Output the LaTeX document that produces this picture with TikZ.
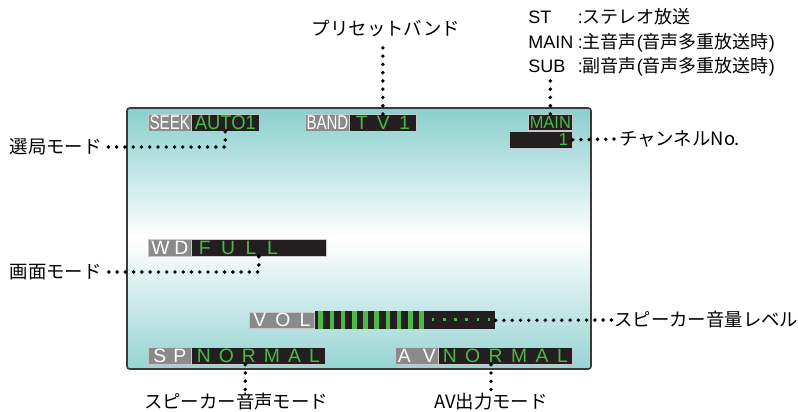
\documentclass[tikz,border=0pt]{standalone}
\usepackage{fontspec}
\usepackage{graphicx}
\setmainfont{Noto Sans CJK JP}
\newfontfamily\lcd{Liberation Sans}
\usepackage{tikz}
\usetikzlibrary{calc}

\definecolor{lcdgray}{HTML}{8A8A8A}
\definecolor{lcdedge}{HTML}{C8C8C8}
\definecolor{lcdblack}{HTML}{231F20}
\definecolor{lcdgreen}{HTML}{4CB848}
\definecolor{scrtop}{HTML}{88CFCD}
\definecolor{scrbot}{HTML}{96D4D2}
\definecolor{scredge}{HTML}{3A3A3A}

\newlength\px
\setlength\px{0.75pt}
\newcommand{\spread}[2]{\makebox[#1\px][s]{#2}}
\newcommand{\boxfont}{\fontsize{15}{15}\selectfont\lcd}
\newcommand{\widefont}{\fontsize{14.5}{15}\selectfont\lcd}
\newcommand{\smallfont}{\fontsize{13}{13}\selectfont\lcd}

\tikzset{
  gbox/.style={fill=lcdgray, draw=lcdedge, line width=0.5pt, text=white,
    inner sep=0pt, minimum height=17*\px, anchor=north west, font=\boxfont},
  bbox/.style={gbox, fill=lcdblack, text=lcdgreen},
  lbl/.style={font=\fontsize{13.8}{16}\selectfont, inner sep=1.5pt},
  dotline/.style={line width=2.9pt, dash pattern=on 0pt off 6.2pt, line cap=round},
  screen/.style={draw=scredge, line width=1.2pt, rounded corners=2pt,
    top color=scrtop, bottom color=scrbot, middle color=white}
}

\begin{document}
\begin{tikzpicture}[x=\px, y=-\px]
      \useasboundingbox (0,0) rectangle (798,411);
      \draw[screen] (127,108) rectangle (591,369);

      % top row
      \node[gbox, minimum width=43*\px] (seek) at (148,114) {\scalebox{0.76}[1]{SEEK}};
      \node[bbox, minimum width=68*\px] (auto) at (191,114) {\scalebox{0.92}[1]{AUTO1}};
      \node[gbox, minimum width=44*\px] (band) at (305,114) {\scalebox{0.75}[1]{BAND}};
      \node[bbox, minimum width=67*\px, font=\widefont] (tv) at (349,114) {\spread{54}{T\hfill V\hfill 1}};
      \node[bbox, minimum width=44*\px, minimum height=16*\px, font=\smallfont] (main) at (528,114) {\scalebox{0.95}[1]{MAIN}};
      \node[bbox, minimum width=63*\px, font=\smallfont] (chan) at (509,131) {\makebox[55\px][r]{1}};

      % wide mode
      \node[gbox, minimum width=43*\px, font=\widefont] (wd) at (148,239) {\spread{37}{W\hfill D}};
      \node[bbox, minimum width=135*\px, font=\widefont] (full) at (191,239)
        {\makebox[120\px][l]{\spread{79}{F\hfill U\hfill L\hfill L}}};

      % volume
      \node[gbox, minimum width=65*\px, minimum height=16*\px, font=\widefont] (vol) at (249,312)
        {\spread{57}{V\hfill O\hfill L}};
      \node[bbox, minimum width=180*\px, minimum height=18*\px, draw=none] (volbar) at (315,311) {};
      \foreach \i in {0,...,9}  {
      	\fill[lcdgreen] (318.3+11.2*\i,311) rectangle ++(4.7,18);
      }
      \foreach \i in {0,...,5}  {
      	\fill[lcdgreen] (431.7+11.2*\i,318) rectangle ++(2.7,2.7);
      }

      % bottom row
      \node[gbox, minimum width=43*\px, font=\widefont] (sp) at (148,347) {\spread{33}{S\hfill P}};
      \node[bbox, minimum width=134*\px, font=\widefont] (spn) at (191,347)
        {\spread{123}{N\hfill O\hfill R\hfill M\hfill A\hfill L}};
      \node[gbox, minimum width=43*\px, font=\widefont] (av) at (395,347) {\spread{38}{A\hfill V}};
      \node[bbox, minimum width=134*\px, font=\widefont] (avn) at (438,347)
        {\spread{125}{N\hfill O\hfill R\hfill M\hfill A\hfill L}};

      % labels
      \node[anchor=north west, inner sep=0pt, align=left, font=\fontsize{13.5}{18.5}\selectfont] (legend) at (528,8)
        {{\lcd\makebox[2.75em][l]{ST}:}ステレオ放送\\
         {\lcd\makebox[2.75em][l]{MAIN}:}主音声{\lcd(}音声多重放送時{\lcd)}\\
         {\lcd\makebox[2.75em][l]{SUB}:}副音声{\lcd(}音声多重放送時{\lcd)}};
      \node[lbl, anchor=east] (seeklbl) at (104,147) {選局モード};
      \node[lbl, anchor=east] (wdlbl) at (104,272) {画面モード};
      \node[lbl] (bandlbl) at (386,29) {プリセットバンド};
      \node[lbl, anchor=west] (chlbl) at (617,139) {チャンネルNo.};
      \node[lbl, anchor=west] (vollbl) at (612,320) {スピーカー音量レベル};
      \node[lbl] (splbl) at (236,402) {スピーカー音声モード};
      \node[lbl] (avlbl) at (491,402) {AV出力モード};

      % dotted leaders
      \draw[dotline] (auto.south) |- (seeklbl.east);
      \draw[dotline] (full.south) |- (wdlbl.east);
      \draw[dotline] (tv.north) -- (tv.north |- bandlbl.south);
      \draw[dotline] (main.north) -- (main.north |- legend.south);
      \draw[dotline] (chan.east) -- (chlbl.west);
      \draw[dotline] (volbar.east) -- (vollbl.west);
      \coordinate (spdot) at ([xshift=-13*\px]spn.south);
      \draw[dotline] (spdot) -- (spdot |- splbl.north);
      \draw[dotline] (avlbl.north |- avn.south) -- (avlbl.north);

      \end{tikzpicture}
\end{document}
